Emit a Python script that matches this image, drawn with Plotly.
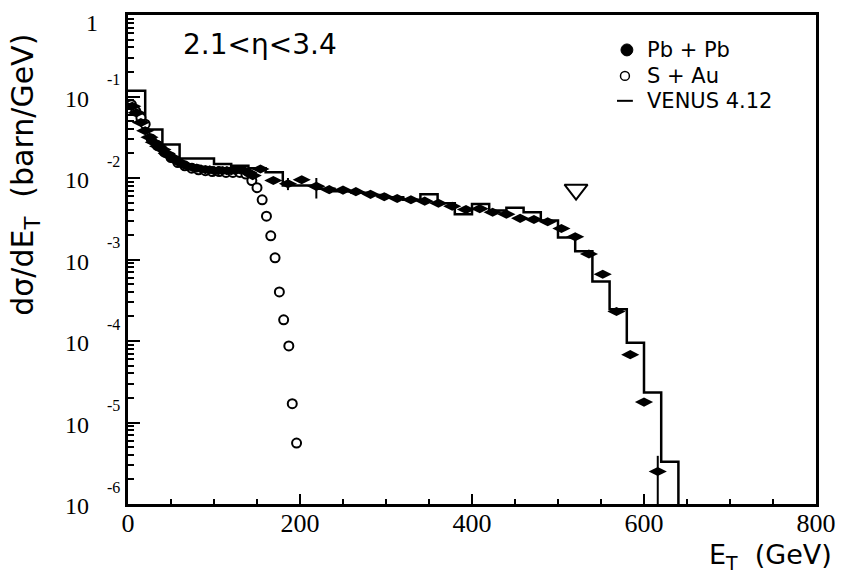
import plotly.graph_objects as go

# ---------------- data ----------------
# VENUS 4.12 histogram, 20 GeV bins from 0 to 640 GeV
venus_edges = list(range(0, 660, 20))
venus_vals = [0.1175, 0.0393, 0.0257, 0.0174, 0.0174, 0.0148, 0.0141, 0.0132, 0.0118, 0.0081,
              0.0081, 0.0074, 0.0069, 0.0066, 0.0062, 0.0058, 0.0054, 0.0063, 0.0049, 0.0036,
              0.0048, 0.0040, 0.0043, 0.0038, 0.0030, 0.00186, 0.00126, 0.000537, 0.000245,
              0.0000955, 0.0000234, 0.0000033]

# Pb + Pb (filled points)
pbpb_et = [5, 10, 15, 20, 25, 30, 35, 40, 45, 50, 55, 60, 65, 70, 75, 80, 85, 90, 95, 100,
           105, 110, 115, 120, 125, 130, 135, 140, 145,
           154, 169, 186, 202, 219, 234, 250, 265, 282, 298, 313, 329, 345, 361, 377, 393,
           409, 424, 440, 456, 472, 488, 504, 520, 536, 552, 568, 584, 600, 616]
pbpb_val = [0.0759, 0.0631, 0.0479, 0.0380, 0.0316, 0.0275, 0.0245, 0.0224, 0.0200, 0.0182,
            0.0166, 0.0155, 0.0145, 0.0138, 0.0135, 0.0132, 0.0129, 0.0126, 0.0126, 0.0123,
            0.0123, 0.0123, 0.0123, 0.0123, 0.0123, 0.0126, 0.0123, 0.0117, 0.0107,
            0.0129, 0.0093, 0.0085, 0.0095, 0.0079, 0.0072, 0.0071, 0.0068, 0.0063, 0.0059,
            0.0056, 0.0054, 0.0052, 0.0049, 0.0045, 0.0041, 0.0042, 0.0038, 0.0036, 0.0032,
            0.0031, 0.0029, 0.0024, 0.0019, 0.00117, 0.00066, 0.00023, 0.000068, 0.0000178,
            0.0000025]

# Pb + Pb points with visible vertical error bars
pbpb_err_et = [186, 219, 616]
pbpb_err_val = [0.0085, 0.0079, 0.0000025]
pbpb_err_up = [0.0015, 0.0021, 0.0000014]
pbpb_err_dn = [0.0014, 0.0023, 0.0000024]

# S + Au (open points)
sau_et = [4, 9, 15, 20, 27, 34, 42, 50, 58, 66, 74, 82, 90, 98, 106, 114, 122, 130, 137, 144,
          150, 156, 161, 166, 171, 176, 181, 187, 191, 196]
sau_val = [0.0794, 0.0661, 0.0550, 0.0457, 0.0302, 0.0251, 0.0209, 0.0178, 0.0155, 0.0141,
           0.0132, 0.0126, 0.0123, 0.0120, 0.0120, 0.0117, 0.0117, 0.0117, 0.0112, 0.0093,
           0.0076, 0.0054, 0.0034, 0.00195, 0.00105, 0.00040, 0.000182, 0.0000871, 0.0000170,
           0.0000056]

# open triangle marker
tri_et = [521]
tri_val = [0.0072]

# axis ticks
y_exps = [-1, -2, -3, -4, -5, -6]

# legend entries
legend_labels = ["Pb + Pb", "S + Au", "VENUS 4.12"]

# ---------------- figure ----------------
SANS = "DejaVu Sans"
SERIF = "Liberation Serif"
W, H = 848, 576
ML, MR, MT, MB = 128, 25, 14, 72
PW, PH = W - ML - MR, H - MT - MB


def px_x(px):
    return (px - ML) / PW


def px_y(py):
    return (H - MB - py) / PH


venus_x = venus_edges + [venus_edges[-1]]
venus_y = venus_vals + [venus_vals[-1], 1e-9]

fig = go.Figure()
fig.add_trace(go.Scatter(x=venus_x, y=venus_y, mode="lines",
                         line=dict(color="black", width=2.5, shape="hv"),
                         showlegend=False, hoverinfo="skip"))
fig.add_trace(go.Scatter(x=sau_et, y=sau_val, mode="markers",
                         marker=dict(symbol="circle", size=9, color="white",
                                     line=dict(color="black", width=2)),
                         showlegend=False))
fig.add_trace(go.Scatter(x=pbpb_et, y=pbpb_val, mode="markers",
                         marker=dict(symbol="diamond-wide", size=13, color="black"),
                         showlegend=False))
fig.add_trace(go.Scatter(x=pbpb_err_et, y=pbpb_err_val, mode="markers",
                         marker=dict(size=1, color="black"),
                         error_y=dict(type="data", array=pbpb_err_up, arrayminus=pbpb_err_dn,
                                      thickness=2, width=0, color="black"),
                         showlegend=False))
fig.add_trace(go.Scatter(x=tri_et, y=tri_val, mode="markers",
                         marker=dict(symbol="triangle-down-open", size=20, color="black",
                                     line=dict(width=2, color="black")),
                         showlegend=False))

minor_y = [k * 10.0 ** n for n in range(-6, 0) for k in range(2, 10)]

fig.update_layout(
    width=W, height=H,
    margin=dict(l=ML, r=MR, t=MT, b=MB),
    paper_bgcolor="white", plot_bgcolor="white",
    font=dict(family=SANS, color="black"),
    showlegend=False,
    xaxis=dict(range=[0, 800], tick0=0, dtick=200, ticks="inside", ticklen=10, tickwidth=2,
               tickcolor="black", showline=True, linewidth=2.5, linecolor="black",
               mirror=True, showgrid=False, zeroline=False,
               tickfont=dict(family=SERIF, size=26, color="black"),
               ticklabelstandoff=-6,
               minor=dict(ticks="inside", ticklen=5, tickwidth=1.5, dtick=50,
                          tickcolor="black", showgrid=False)),
    yaxis=dict(type="log", range=[-6, 0], tickvals=[10.0 ** e for e in [0] + y_exps],
               ticks="inside", ticklen=12, tickwidth=2, tickcolor="black",
               showticklabels=False, showline=True, linewidth=2.5, linecolor="black",
               mirror=True, showgrid=False, zeroline=False,
               minor=dict(ticks="inside", ticklen=6, tickwidth=1.5, tickvals=minor_y,
                          tickcolor="black", showgrid=False)),
)

annotations = []
# y tick labels: "1" and 10^-n
annotations.append(dict(text="1", xref="paper", yref="y", x=px_x(100), y=0, xanchor="right",
                        yanchor="middle", yshift=-8, showarrow=False,
                        font=dict(family=SERIF, size=24, color="black")))
for e in y_exps:
    annotations.append(dict(text="10", xref="paper", yref="y", x=px_x(91), y=e,
                            xanchor="right", yanchor="middle", yshift=-2, showarrow=False,
                            font=dict(family=SERIF, size=24, color="black")))
    annotations.append(dict(text=str(e), xref="paper", yref="y", x=px_x(105), y=e,
                            xanchor="left", yanchor="middle", yshift=17, showarrow=False,
                            font=dict(family=SERIF, size=16, color="black")))
# axis titles
annotations.append(dict(text="dσ/dE<sub>T</sub>  (barn/GeV)", xref="paper", yref="paper",
                        x=px_x(24), y=px_y(174), xanchor="center", yanchor="middle",
                        textangle=-90, showarrow=False,
                        font=dict(family=SANS, size=30, color="black")))
annotations.append(dict(text="E<sub>T</sub>  (GeV)", xref="paper", yref="paper",
                        x=px_x(841), y=px_y(557), xanchor="right", yanchor="middle",
                        showarrow=False, font=dict(family=SANS, size=27, color="black")))
# rapidity window label
annotations.append(dict(text="2.1<η<3.4", xref="paper", yref="paper",
                        x=px_x(182), y=px_y(44), xanchor="left", yanchor="middle",
                        showarrow=False, font=dict(family=SANS, size=28, color="black")))
# legend labels
legend_y = [49, 75, 100]
for lab, ly in zip(legend_labels, legend_y):
    annotations.append(dict(text=lab, xref="paper", yref="paper", x=px_x(650), y=px_y(ly),
                            xanchor="left", yanchor="middle", showarrow=False,
                            font=dict(family=SANS, size=21, color="black")))
fig.update_layout(annotations=annotations)

# legend keys
shapes = [
    dict(type="circle", xref="paper", yref="paper", x0=px_x(626), x1=px_x(638),
         y0=px_y(legend_y[0] + 6), y1=px_y(legend_y[0] - 6), fillcolor="black",
         line=dict(color="black", width=1)),
    dict(type="circle", xref="paper", yref="paper", x0=px_x(625.5), x1=px_x(634.5),
         y0=px_y(legend_y[1] + 4.5), y1=px_y(legend_y[1] - 4.5), fillcolor="white",
         line=dict(color="black", width=1.5)),
    dict(type="line", xref="paper", yref="paper", x0=px_x(622), x1=px_x(638),
         y0=px_y(legend_y[2]), y1=px_y(legend_y[2]), line=dict(color="black", width=2)),
]
fig.update_layout(shapes=shapes)

fig.write_html("out.html")
